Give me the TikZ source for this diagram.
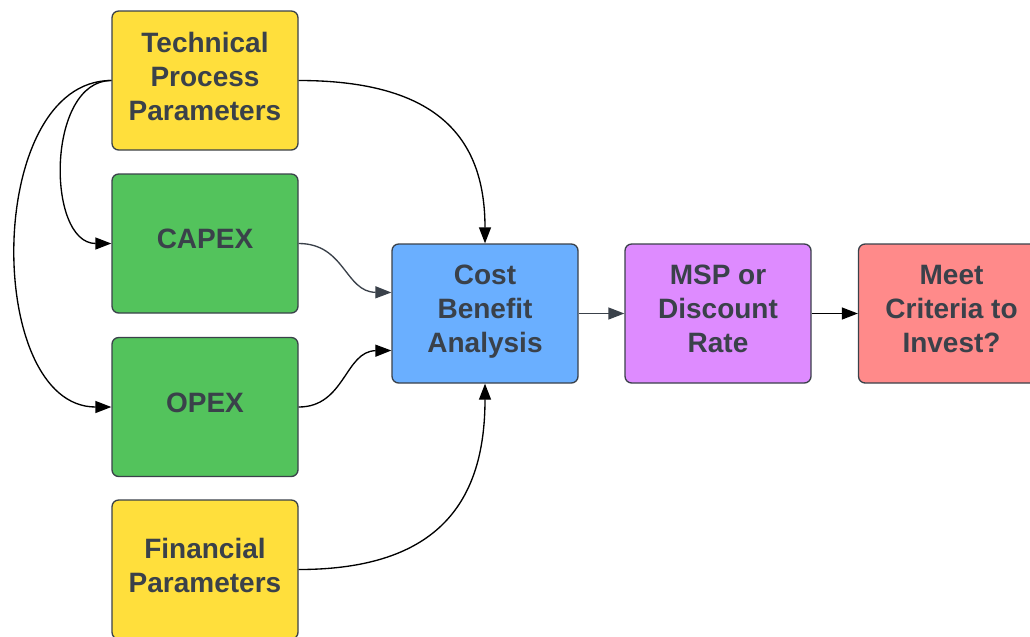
\documentclass[tikz,border=0pt]{standalone}
\usepackage{fontspec}
\setmainfont{Liberation Sans}
\usetikzlibrary{arrows.meta}
\definecolor{txt}{HTML}{3A414A}
\definecolor{bord}{HTML}{3A414A}
\definecolor{cyel}{HTML}{FFDF3C}
\definecolor{cgrn}{HTML}{53C35C}
\definecolor{cblu}{HTML}{6AAFFF}
\definecolor{cpur}{HTML}{DE8BFF}
\definecolor{cred}{HTML}{FF8A8A}
\newcommand{\lift}{\\[-19pt]\mbox{}}
\tikzset{
  box/.style={draw=bord, line width=1pt, rounded corners=5pt, minimum width=186*0.75pt, minimum height=139*0.75pt,
    align=center, text=txt, font=\fontsize{21pt}{25.5pt}\selectfont\bfseries, inner sep=0pt},
  conn/.style={line width=1pt, -{Triangle[length=12pt,width=9pt]}},
}
\begin{document}
\begin{tikzpicture}[x=0.75pt,y=-0.75pt]
\useasboundingbox (0,0) rectangle (1030,636);
\node[box, fill=cyel] (tpp) at (205,80.5) {Technical\\Process\\Parameters\lift};
\node[box, fill=cgrn] (capex) at (205,243.5) {CAPEX\lift};
\node[box, fill=cgrn] (opex) at (205,407) {OPEX\lift};
\node[box, fill=cyel] (fin) at (205,569.5) {Financial\\Parameters\lift};
\node[box, fill=cblu] (cba) at (485,313.5) {Cost\\Benefit\\Analysis\lift};
\node[box, fill=cpur] (msp) at (718,313.5) {MSP or\\Discount\\Rate\lift};
\node[box, fill=cred] (meet) at (951.5,313.5) {Meet\\Criteria to\\Invest?\lift};

\draw[conn, black] (tpp.west) .. controls (46,80.5) and (46,243.5) .. (capex.west);
\draw[conn, black] (tpp.west) .. controls (-16,80.5) and (-16,407) .. (opex.west);
\draw[conn, black] (tpp.east) .. controls (440,80.5) and (485,140) .. (cba.north);
\draw[conn, bord] (capex.east) .. controls (345,243.5) and (345,292) .. ([yshift=21*0.75pt]cba.west);
\draw[conn, black] (opex.east) .. controls (345,407) and (345,351) .. ([yshift=-37*0.75pt]cba.west);
\draw[conn, black] (fin.east) .. controls (440,569.5) and (485,500) .. (cba.south);
\draw[conn, bord] (cba.east) -- (msp.west);
\draw[conn, black] (msp.east) -- (meet.west);
\end{tikzpicture}
\end{document}
